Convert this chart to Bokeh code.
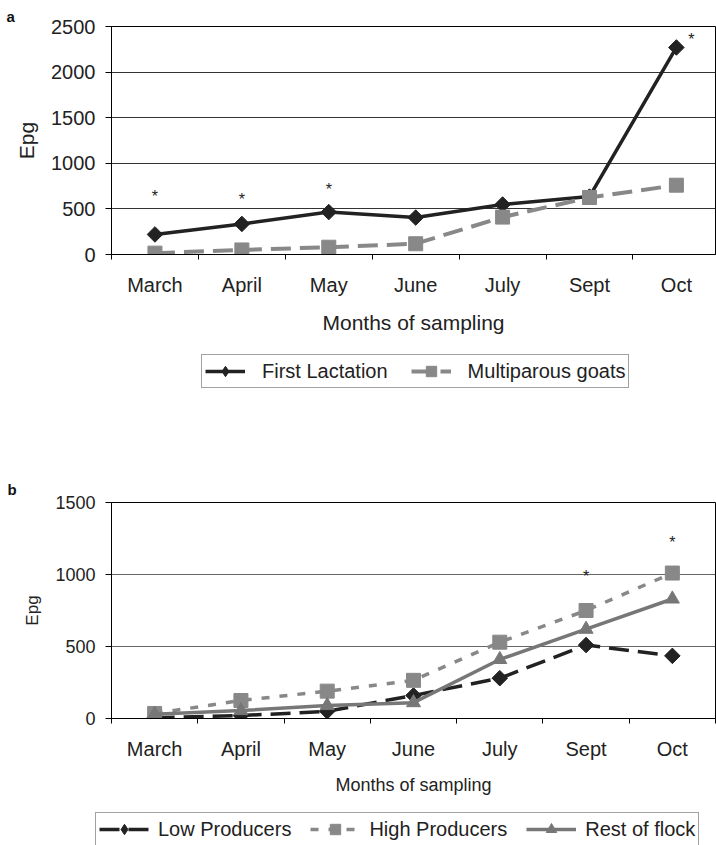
import math
from bokeh.plotting import figure
from bokeh.models import Range1d, FixedTicker, Legend, LegendItem, ColumnDataSource
from bokeh.embed import file_html
from bokeh.resources import INLINE

# ---------------- data ----------------
months = ["March", "April", "May", "June", "July", "Sept", "Oct"]

# panel a
first_lactation = [220, 335, 465, 405, 548, 635, 2270]
multiparous_goats = [15, 50, 80, 118, 410, 625, 760]
stars_a_months = ["March", "April", "May", "Oct"]
stars_a_y = [640, 600, 710, 2360]
yticks_a = [0, 500, 1000, 1500, 2000, 2500]

# panel b
low_producers = [5, 20, 50, 160, 280, 510, 435]
high_producers = [35, 125, 190, 265, 530, 750, 1010]
rest_of_flock = [30, 55, 90, 110, 410, 620, 830]
stars_b_months = ["Sept", "Oct"]
stars_b_y = [985, 1220]
yticks_b = [0, 500, 1000, 1500]

FONT = "Liberation Sans"
TXT = "#222222"
W = 716

xs = list(range(1, len(months) + 1))
xpos = {m: i + 1 for i, m in enumerate(months)}
DIAMOND = math.pi / 4

SERIES = {
    "First Lactation": first_lactation,
    "Multiparous goats": multiparous_goats,
    "Low Producers": low_producers,
    "High Producers": high_producers,
    "Rest of flock": rest_of_flock,
}

# series styles (shared by the charts and their legends)
STY = {
    "First Lactation": dict(line=dict(line_color="#222222", line_width=3.5),
                            mark=dict(marker="square", angle=DIAMOND, size=11, fill_color="#222222", line_color="#222222")),
    "Multiparous goats": dict(line=dict(line_color="#888888", line_width=4, line_dash="20 9"),
                              mark=dict(marker="square", size=14, fill_color="#888888", line_color="#888888")),
    "Low Producers": dict(line=dict(line_color="#222222", line_width=3.5, line_dash="20 9"),
                          mark=dict(marker="square", angle=DIAMOND, size=11, fill_color="#222222", line_color="#222222")),
    "High Producers": dict(line=dict(line_color="#888888", line_width=3.5, line_dash="8 10"),
                           mark=dict(marker="square", size=14, fill_color="#888888", line_color="#888888")),
    "Rest of flock": dict(line=dict(line_color="#777777", line_width=3.5),
                          mark=dict(marker="triangle", size=14, fill_color="#777777", line_color="#777777")),
}


def style_axes(p, yticks, ytick_size, ylabel_size, xlabel_size, grid_color, tag, tag_offset, tag_standoff):
    p.xaxis.ticker = FixedTicker(ticks=xs, minor_ticks=[x - 0.5 for x in xs] + [xs[-1] + 0.5])
    p.xaxis.major_label_overrides = {x: m for x, m in zip(xs, months)}
    p.xaxis.major_tick_out = 0
    p.xaxis.major_tick_in = 0
    p.xaxis.minor_tick_out = 5
    p.xaxis.minor_tick_in = 0
    p.xaxis.minor_tick_line_color = "black"
    p.xaxis.axis_line_color = "black"
    p.xaxis.major_label_text_font = FONT
    p.xaxis.major_label_text_font_size = "20px"
    p.xaxis.major_label_text_color = TXT
    p.xaxis.major_label_standoff = 14
    p.xaxis.axis_label = "Months of sampling"
    p.xaxis.axis_label_text_font = FONT
    p.xaxis.axis_label_text_font_style = "normal"
    p.xaxis.axis_label_text_font_size = xlabel_size
    p.xaxis.axis_label_text_color = TXT
    p.xaxis.axis_label_standoff = 12

    p.yaxis.ticker = FixedTicker(ticks=yticks, minor_ticks=[])
    p.yaxis.major_tick_out = 6
    p.yaxis.major_tick_in = 0
    p.yaxis.minor_tick_out = 0
    p.yaxis.minor_tick_in = 0
    p.yaxis.axis_line_color = "black"
    p.yaxis.major_tick_line_color = "black"
    p.yaxis.major_label_text_font = FONT
    p.yaxis.major_label_text_font_size = ytick_size
    p.yaxis.major_label_text_color = TXT
    p.yaxis.major_label_standoff = 10
    p.yaxis.axis_label = "Epg"
    p.yaxis.axis_label_text_font = FONT
    p.yaxis.axis_label_text_font_style = "normal"
    p.yaxis.axis_label_text_font_size = ylabel_size
    p.yaxis.axis_label_text_color = TXT
    p.yaxis.axis_label_standoff = 10

    p.xgrid.visible = False
    p.ygrid.ticker = FixedTicker(ticks=yticks)
    p.ygrid.grid_line_color = grid_color
    p.ygrid.grid_line_width = 1
    p.outline_line_color = "black"
    p.outline_line_width = 1
    p.background_fill_color = "white"
    p.border_fill_color = "white"

    p.title.text = tag
    p.title.align = "left"
    p.title.offset = tag_offset
    p.title.standoff = tag_standoff
    p.title.text_font = FONT
    p.title.text_font_style = "bold"
    p.title.text_font_size = "15px"
    p.title.text_color = "#111111"


def draw_series(p, name, for_legend=False):
    mark = dict(STY[name]["mark"])
    if for_legend and "angle" in mark:
        # legend keys ignore the marker angle: use the diamond marker there
        mark.pop("angle")
        mark["marker"] = "diamond"
    r1 = p.line(xs, SERIES[name], **STY[name]["line"])
    r2 = p.scatter(xs, SERIES[name], **mark)
    return [r1, r2]


def legend_figure(names, height, loc, glyph_width, label_standoff, spacing):
    # legend strip below a chart: the series are drawn out of its (empty) view,
    # only the legend keys show
    f = figure(width=W, height=height, x_range=Range1d(0.5, 7.5), y_range=Range1d(-2000, -1000),
               x_axis_type=None, y_axis_type=None, output_backend="svg", toolbar_location=None,
               min_border=0)
    f.outline_line_color = None
    f.background_fill_color = "white"
    f.border_fill_color = "white"
    items = [LegendItem(label=n, renderers=draw_series(f, n, for_legend=True)) for n in names]
    leg = Legend(items=items, orientation="horizontal", location=loc,
                 label_text_font=FONT, label_text_font_size="20px", label_text_color=TXT,
                 glyph_width=glyph_width, glyph_height=26, label_standoff=label_standoff,
                 spacing=spacing, padding=3, margin=0,
                 border_line_color="#444444", border_line_width=1, background_fill_alpha=1)
    f.add_layout(leg)
    return f


# ---------------- panel a ----------------
pa = figure(width=W, height=345, x_range=Range1d(0.5, 7.45), y_range=Range1d(0, 2500),
            output_backend="svg", toolbar_location=None,
            min_border_top=26, min_border_left=111, min_border_right=1, min_border_bottom=91)
style_axes(pa, yticks_a, "20px", "21px", "21px", "#333333", "a", -105, 4)
draw_series(pa, "First Lactation")
draw_series(pa, "Multiparous goats")

src_sa = ColumnDataSource(dict(x=[xpos[m] for m in stars_a_months], y=stars_a_y,
                               t=["*"] * len(stars_a_months),
                               dx=[15 if m == "Oct" else 0 for m in stars_a_months]))
pa.text(x="x", y="y", x_offset="dx", text="t", source=src_sa,
        text_align="center", text_baseline="middle", text_font_size="16px", text_color="#222222")

leg_fig_a = legend_figure(["First Lactation", "Multiparous goats"], 55, (201, 12), 40, 17, 23)

# ---------------- panel b ----------------
pb = figure(width=W, height=400, x_range=Range1d(0.5, 7.5), y_range=Range1d(0, 1500),
            output_backend="svg", toolbar_location=None,
            min_border_top=102, min_border_left=111, min_border_right=1, min_border_bottom=82)
style_axes(pb, yticks_b, "18px", "17px", "18px", "#666666", "b", -104, 10)
draw_series(pb, "Low Producers")
draw_series(pb, "High Producers")
draw_series(pb, "Rest of flock")

src_sb = ColumnDataSource(dict(x=[xpos[m] for m in stars_b_months], y=stars_b_y,
                               t=["*"] * len(stars_b_months)))
pb.text(x="x", y="y", text="t", source=src_sb,
        text_align="center", text_baseline="middle", text_font_size="16px", text_color="#222222")

leg_fig_b = legend_figure(["Low Producers", "High Producers", "Rest of flock"], 45, (95, -1), 50, 9, 19)

open("out.html", "w").write(file_html([pa, leg_fig_a, pb, leg_fig_b], INLINE))
